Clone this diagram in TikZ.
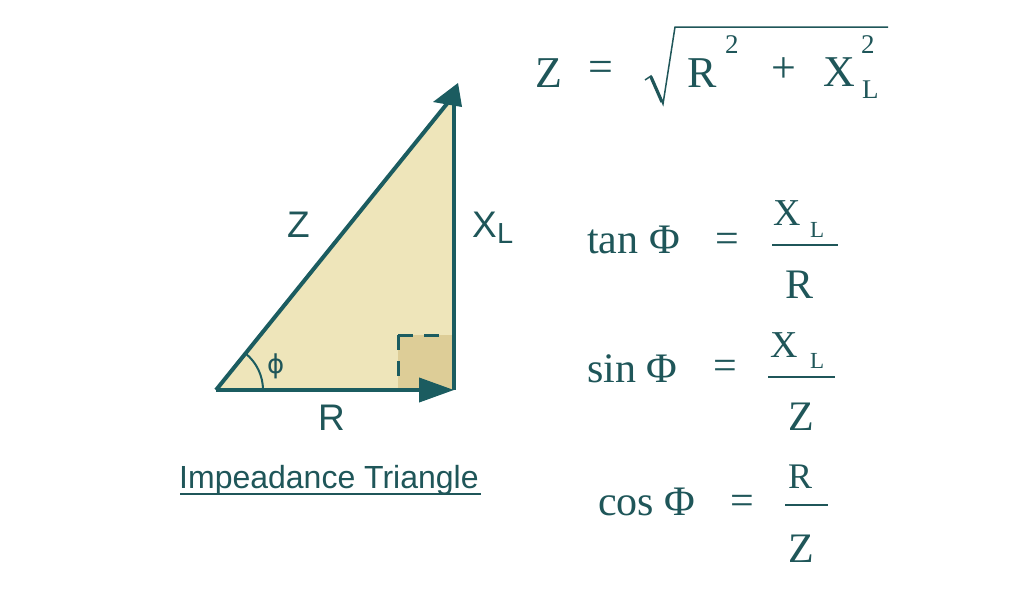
\documentclass[tikz,border=0pt]{standalone}
\usepackage{fontspec}
\setmainfont{Liberation Serif}
\newfontfamily\sansf{Liberation Sans}
\newfontfamily\dejaf{DejaVu Sans}
\usetikzlibrary{arrows.meta}
\definecolor{lineC}{HTML}{1B5C60}
\definecolor{textC}{HTML}{1F5659}
\definecolor{fillC}{HTML}{EEE5BA}
\definecolor{sqC}{HTML}{DDCD97}
\newcommand\fsz[1]{\fontsize{#1}{#1}\selectfont}
\begin{document}
\begin{tikzpicture}[x=1pt,y=-1pt,
  lbl/.style={inner sep=0pt, anchor=base west, text=textC},
  ctr/.style={inner sep=0pt, anchor=center, text=textC},
  side/.style={draw=lineC, line width=4pt},
  fracbar/.style={draw=textC, line width=2.2pt},
  dashsq/.style={draw=lineC, line width=3pt, dash pattern=on 15pt off 11pt}]
\useasboundingbox[fill=white] (0,0) rectangle (1024,600);

% triangle
\coordinate (A) at (216,390);
\coordinate (B) at (454,390);
\coordinate (C) at (454,100);
\coordinate (H) at (454,95);
\coordinate (tipT) at (458,83);
\coordinate (wL) at (433,102);
\coordinate (wR) at (462,107);
\fill[fillC] (A) -- (B) -- (C) -- (H) -- cycle;
\coordinate (S1) at (398,335);
\fill[sqC] (S1) rectangle (B);
\draw[dashsq] (S1) -- (445,335);
\draw[dashsq] (S1) -- (398,386);
\draw[side] (A) -- (H);
\draw[side] (B) -- (C);
\fill[lineC] (tipT) -- (wL) -- (wR) -- cycle;
\draw[side, -{Triangle[length=35pt,width=24pt]}] (A) -- (B);
\draw[draw=lineC, line width=2pt] ([shift={(47,0)}]A) arc[start angle=0, end angle=-51, radius=47];

\node[lbl, font=\dejaf\fsz{26}] (phi) at (267,373) {ϕ};
\node[lbl, font=\sansf\fsz{37}] (lz) at (287,237) {Z};
\node[lbl, font=\sansf\fsz{37}] (lx) at (472,237) {X};
\node[lbl, font=\sansf\fsz{29}] (lxl) at (497,243) {L};
\node[lbl, font=\sansf\fsz{37}] (lr) at (318,430) {R};
\node[lbl, font=\sansf\fsz{32}] (cap) at (179,488) {Impeadance Triangle};
\draw[draw=textC, line width=2pt] (180,494) -- (481,494);

% top equation
\node[lbl, font=\fsz{44}] (tz) at (535,87) {Z};
\node[ctr, font=\fsz{44}] (teq) at (601,71) {=};
\draw[draw=textC, line width=1.5pt, line join=miter] (645,80) -- (651,76) -- (663,104) -- (675,27) -- (888,27);
\draw[draw=textC, line width=3.2pt] (651,77) -- (662,102);
\node[lbl, font=\fsz{44}] (tr) at (687,87) {R};
\node[lbl, font=\fsz{27}] (tr2) at (725,53) {2};
\node[ctr, font=\fsz{44}] (tplus) at (784,70) {+};
\node[lbl, font=\fsz{44}] (tx) at (823,86) {X};
\node[lbl, font=\fsz{27}] (tx2) at (861,53) {2};
\node[lbl, font=\fsz{27}] (txl) at (862,98) {L};

% tan
\node[lbl, font=\fsz{42}] (tan) at (587,253) {tan Φ};
\node[ctr, font=\fsz{42}] (taneq) at (727,243) {=};
\draw[fracbar] (772,245) -- (838,245);
\node[lbl, font=\fsz{38}] (tanx) at (773,225) {X};
\node[lbl, font=\fsz{23}] (tanl) at (810,237) {L};
\node[lbl, font=\fsz{42}] (tanr) at (785,298) {R};

% sin
\node[lbl, font=\fsz{42}] (sin) at (587,382) {sin Φ};
\node[ctr, font=\fsz{42}] (sineq) at (725,370) {=};
\draw[fracbar] (768,377) -- (835,377);
\node[lbl, font=\fsz{38}] (sinx) at (770,357) {X};
\node[lbl, font=\fsz{23}] (sinl) at (810,368) {L};
\node[lbl, font=\fsz{42}] (sinz) at (788,430) {Z};

% cos
\node[lbl, font=\fsz{42}] (cos) at (598,515) {cos Φ};
\node[ctr, font=\fsz{42}] (coseq) at (742,505) {=};
\draw[fracbar] (785,505) -- (828,505);
\node[lbl, font=\fsz{36}] (cosr) at (788,488) {R};
\node[lbl, font=\fsz{42}] (cosz) at (788,562) {Z};
\end{tikzpicture}
\end{document}
